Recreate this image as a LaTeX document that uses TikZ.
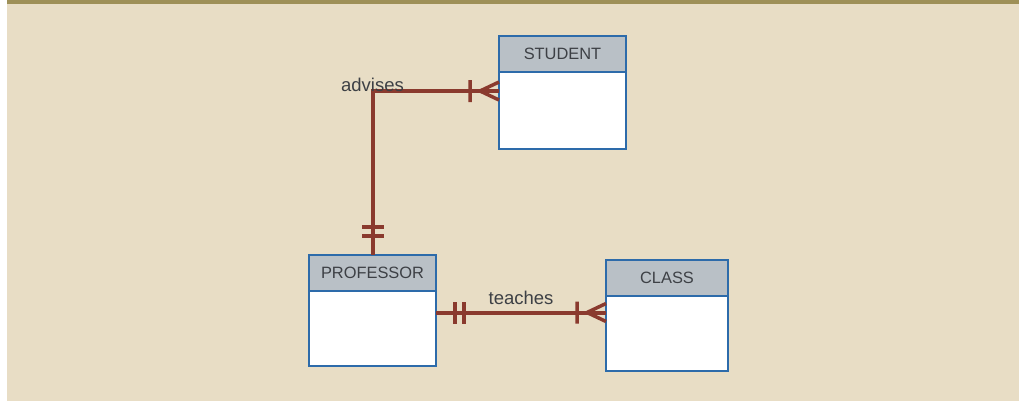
\documentclass[tikz,border=0pt]{standalone}
\usepackage{fontspec}
\setmainfont{Liberation Sans}
\usetikzlibrary{positioning}

\definecolor{sand}{HTML}{E8DDC5}
\definecolor{topbar}{HTML}{9E9058}
\definecolor{boxblue}{HTML}{2D6BAA}
\definecolor{headgray}{HTML}{B9C0C6}
\definecolor{relbrown}{HTML}{8A3A2E}
\definecolor{ink}{HTML}{3D4045}

\begin{document}
\begin{tikzpicture}[x=1pt,y=-1pt,
    head/.style={draw=boxblue,line width=2.2pt,fill=headgray,minimum width=127pt,
      minimum height=36pt,inner sep=0pt,outer sep=0pt,text=ink,
      font=\fontsize{16.4}{18}\selectfont},
    body/.style={draw=boxblue,line width=2.2pt,fill=white,minimum width=127pt,
      minimum height=77pt,inner sep=0pt,outer sep=0pt},
    rel/.style={draw=relbrown,line width=4pt},
    lbl/.style={inner sep=0pt,text=ink,font=\fontsize{18.5}{20}\selectfont},
    crow/.pic={\draw[rel,line width=3.5pt] (-19,0) -- (0,-9) (-19,0) -- (0,9) (-29,-11) -- (-29,11);},
    one/.pic={\draw[rel,line width=3.5pt] (-19,-11) -- (-19,11) (-28,-11) -- (-28,11);}]
  \useasboundingbox (0,0) rectangle (1019,404);
  \fill[white] (0,0) rectangle (1019,404);
  \fill[sand] (7,0) rectangle (1019,401);
  \fill[topbar] (7,0) rectangle (1019,4);

  % entities
  \node[head,anchor=north west] (1) at (499,36) {STUDENT};
  \node[body,below=0pt of 1] (1b) {};
  \node[head,anchor=north west] (2) at (309,255) {PROFESSOR};
  \node[body,below=0pt of 2,minimum height=75pt] (2b) {};
  \node[head,anchor=north west,minimum width=122pt] (3) at (606,260) {CLASS};
  \node[body,below=0pt of 3,minimum width=122pt,minimum height=75pt] (3b) {};

  \coordinate (e1) at ([yshift=19.5pt]1b.west);
  \coordinate (e2) at ([yshift=16pt]2b.east);
  \coordinate (e3) at ([yshift=21pt]3b.west);

  % relationships
  \draw[rel] (2.north) |- node[lbl,anchor=base] {advises} (e1);
  \draw[rel] (e2) -- node[lbl,above=6pt] {teaches} (e3);
  \pic at (e1) {crow};
  \pic at (e3) {crow};
  \pic[rotate=180] at (e2) {one};
  \pic[rotate=-90] at (2.north) {one};
\end{tikzpicture}
\end{document}
